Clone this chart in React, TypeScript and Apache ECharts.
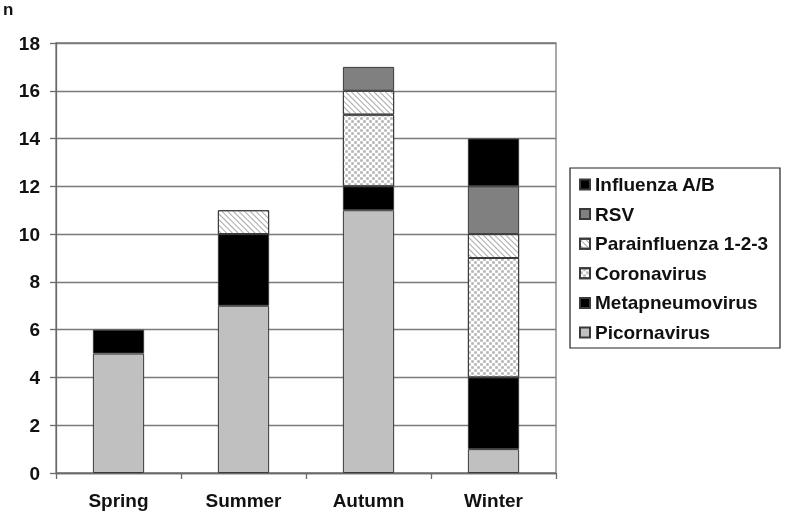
import React, { useEffect, useRef } from "react";
import * as echarts from "echarts";

const categories = ["Spring", "Summer", "Autumn", "Winter"];
const picornavirus = [5, 7, 11, 1];
const metapneumovirus = [1, 3, 1, 3];
const coronavirus = [null, null, 3, 5];
const parainfluenza = [null, 1, 1, 1];
const rsv = [null, null, 1, 2];
const influenza = [null, null, null, 2];
const legendOrder = ["Influenza A/B", "RSV", "Parainfluenza 1-2-3", "Coronavirus", "Metapneumovirus", "Picornavirus"];

const FONT = "'Liberation Sans', Arial, Helvetica, sans-serif";

export default function App() {
  const ref = useRef<HTMLDivElement>(null);
  useEffect(() => {
    if (!ref.current) return;
    const chart = echarts.init(ref.current, null, { renderer: "svg" });
    const border = { borderColor: "#3a3a3a", borderWidth: 1 };
    const mk = (name: string, data: any[], itemStyle: any) => ({
      name,
      type: "bar",
      stack: "total",
      data,
      barWidth: "41%",
      itemStyle: { ...border, ...itemStyle },
      emphasis: { disabled: true },
    });
    chart.setOption({
      animation: false,
      textStyle: { fontFamily: FONT },
      grid: {
        left: 56,
        right: 233,
        top: 43,
        bottom: 44,
        show: true,
        borderColor: "#7a7a7a",
        borderWidth: 1.3,
        backgroundColor: "transparent",
      },
      legend: {
        data: legendOrder,
        orient: "vertical",
        left: 579,
        top: 175,
        icon: "rect",
        itemWidth: 10,
        itemHeight: 10,
        itemGap: 10.6,
        padding: 0,
        textStyle: {
          fontFamily: FONT,
          fontSize: 19,
          fontWeight: "bold",
          color: "#111",
          lineHeight: 19,
        },
      },
      xAxis: {
        type: "category",
        data: categories,
        axisLine: { lineStyle: { color: "#6a6a6a", width: 1.3 } },
        axisTick: { show: true, length: 6, lineStyle: { color: "#6a6a6a", width: 1.3 } },
        axisLabel: { fontFamily: FONT, fontSize: 19, fontWeight: "bold", color: "#111", margin: 18 },
      },
      yAxis: {
        type: "value",
        min: 0,
        max: 18,
        interval: 2,
        axisLine: { show: true, lineStyle: { color: "#6a6a6a", width: 1.3 } },
        axisTick: { show: true, length: 6, lineStyle: { color: "#6a6a6a", width: 1.3 } },
        splitLine: { lineStyle: { color: "#7a7a7a", width: 1.3 } },
        axisLabel: { fontFamily: FONT, fontSize: 19, fontWeight: "bold", color: "#111", margin: 16 },
      },
      graphic: [
        {
          type: "rect",
          shape: { x: 570, y: 168, width: 210, height: 180 },
          style: { fill: "none", stroke: "#222", lineWidth: 1.2 },
          z: 10,
        },
        {
          type: "text",
          x: 3,
          y: 1,
          style: { text: "n", fontFamily: FONT, fontSize: 17, fontWeight: "bold", fill: "#111" },
        },
      ],
      series: [
        mk("Picornavirus", picornavirus, { color: "#c0c0c0" }),
        mk("Metapneumovirus", metapneumovirus, { color: "#000000" }),
        mk("Coronavirus", coronavirus, {
          color: "#ffffff",
          decal: {
            symbol: "rect",
            symbolSize: 0.85,
            color: "#b0b0b0",
            dashArrayX: [[3, 3], [0, 3, 3, 0]],
            dashArrayY: [3, 0],
            rotation: 0,
          },
        }),
        mk("Parainfluenza 1-2-3", parainfluenza, {
          color: "#ffffff",
          decal: {
            symbol: "rect",
            symbolSize: 1,
            color: "#a8a8a8",
            dashArrayX: [1, 0],
            dashArrayY: [1, 3],
            rotation: Math.PI / 4,
          },
        }),
        mk("RSV", rsv, { color: "#808080" }),
        mk("Influenza A/B", influenza, { color: "#000000" }),
      ],
    });
    return () => chart.dispose();
  }, []);
  return <div ref={ref} style={{ position: "fixed", left: 0, top: 0, width: 789, height: 517 }} />;
}
